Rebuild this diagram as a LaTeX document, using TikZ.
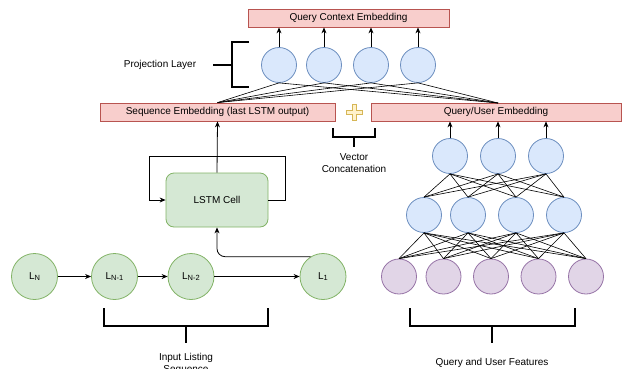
\documentclass[tikz,border=0pt]{standalone}
\usepackage{fontspec}
\setmainfont{Liberation Sans}
\usetikzlibrary{arrows.meta}

\definecolor{redfill}{HTML}{F8CECC}
\definecolor{redline}{HTML}{B85450}
\definecolor{greenfill}{HTML}{D5E8D4}
\definecolor{greenline}{HTML}{82B366}
\definecolor{bluefill}{HTML}{DAE8FC}
\definecolor{blueline}{HTML}{6C8EBF}
\definecolor{purplefill}{HTML}{E1D5E7}
\definecolor{purpleline}{HTML}{9673A6}
\definecolor{yellowfill}{HTML}{FFF2CC}
\definecolor{yellowline}{HTML}{D6B656}

\tikzset{
  embbox/.style={draw=redline, fill=redfill, line width=0.8pt, minimum height=18pt, inner sep=0pt},
  unitblue/.style={circle, draw=blueline, fill=bluefill, line width=0.8pt, minimum size=35pt, inner sep=0pt},
  unitpurple/.style={circle, draw=purpleline, fill=purplefill, line width=0.8pt, minimum size=35pt, inner sep=0pt},
  listing/.style={circle, draw=greenline, fill=greenfill, line width=0.8pt, minimum size=46pt, inner sep=0pt},
  arrow/.style={-{Stealth[length=6pt,width=5pt]}, line width=0.8pt},
  wire/.style={line width=0.6pt},
  bracket/.style={line width=1.2pt}
}

\newcommand{\sub}[1]{\raisebox{-1pt}{\fontsize{7.5}{8}\selectfont #1}}

\begin{document}
\begin{tikzpicture}[x=1pt, y=-1pt, every node/.style={font=\fontsize{10}{12}\selectfont}]
    \useasboundingbox (0,0) rectangle (622,368);

    % Embedding boxes
    \node[embbox, minimum width=201pt] (ctx) at (348.5,18) {Query Context Embedding};
    \node[embbox, minimum width=235pt] (seq) at (217.5,112) {Sequence Embedding (last LSTM output)};
    \node[embbox, minimum width=250pt] (qu) at (496,112) {Query/User Embedding};
    \coordinate (quTop) at (498,103);

    % Projection layer
    \node[unitblue] (p1) at (279,65) {};
    \node[unitblue] (p2) at (324,65) {};
    \node[unitblue] (p3) at (371,65) {};
    \node[unitblue] (p4) at (418,65) {};

    % Query/User tower
    \node[unitblue] (u1) at (450,156) {};
    \node[unitblue] (u2) at (498,156) {};
    \node[unitblue] (u3) at (546,156) {};

    \node[unitblue] (h1) at (424,215) {};
    \node[unitblue] (h2) at (468,215) {};
    \node[unitblue] (h3) at (516,215) {};
    \node[unitblue] (h4) at (564,215) {};

    \node[unitpurple] (f1) at (399,276.5) {};
    \node[unitpurple] (f2) at (443.5,276.5) {};
    \node[unitpurple] (f3) at (491,276.5) {};
    \node[unitpurple] (f4) at (538.5,276.5) {};
    \node[unitpurple] (f5) at (586,276.5) {};

    % Fully connected wires
    \foreach \i in {1,...,5} {
        \foreach \j in {1,...,4} {
            \draw[wire] (f\i.north) -- (h\j.south);
        }
    }
    \foreach \i in {1,...,4} {
        \foreach \j in {1,...,3} {
            \draw[wire] (h\i.north) -- (u\j.south);
        }
    }
    \foreach \j in {1,...,4} {
        \draw[wire] (seq.north) -- (p\j.south);
        \draw[wire] (quTop) -- (p\j.south);
        \draw[arrow] (p\j.north) -- (p\j.north |- ctx.south);
    }
    \foreach \j in {1,...,3} {
        \draw[arrow] (u\j.north) -- (u\j.north |- qu.south);
    }

    % Listing sequence
    \node[listing] (ln) at (34.5,276.5) {L\sub{N}};
    \node[listing] (ln1) at (114.5,276.5) {L\sub{N-1}};
    \node[listing] (ln2) at (191,276.5) {L\sub{N-2}};
    \node[listing] (l1) at (323,276.5) {L\sub{1}};
    \draw[arrow] (ln) -- (ln1);
    \draw[arrow] (ln1) -- (ln2);
    \draw[arrow] (ln2) -- (l1);

    % LSTM cell with its loop
    \node[draw=greenline, fill=greenfill, line width=0.8pt, rounded corners=8pt,
          minimum width=102pt, minimum height=54pt] (lstm) at (217,200) {LSTM Cell};
    \coordinate (loopR) at (285,156);
    \coordinate (loopL) at (149,200);
    \draw[arrow] (lstm.east) -| (loopR) -| (loopL) -- (lstm.west);
    \draw[arrow] (lstm.north) -- (seq.south);
    \draw[arrow, rounded corners=8pt] (l1.122) -| (lstm.south);

    % Vector concatenation sign
    \draw[draw=yellowline, fill=yellowfill, line width=0.8pt]
        (352,104) -- (356,104) -- (356,110) -- (362,110) -- (362,114) -- (356,114)
        -- (356,120) -- (352,120) -- (352,114) -- (346,114) -- (346,110) -- (352,110) -- cycle;

    % Brackets
    \draw[bracket] (249,42) -- (232,42) -- (232,87) -- (249,87);
    \draw[bracket] (232,65) -- (213,65);
    \node (projlabel) at (160,65) {Projection Layer};

    \draw[bracket] (333,128) -- (333,137) -- (375,137) -- (375,128);
    \draw[bracket] (354,137) -- (354,147);
    \node[align=center] (concatlabel) at (354,163.5) {Vector\\Concatenation};

    \draw[bracket] (104,308) -- (104,326) -- (268,326) -- (268,308);
    \draw[bracket] (186,326) -- (186,343);
    \node[align=center] (seqlabel) at (186,363.5) {Input Listing\\Sequence};

    \draw[bracket] (410,308) -- (410,326) -- (575,326) -- (575,308);
    \draw[bracket] (492,326) -- (492,343);
    \node (featlabel) at (492,363) {Query and User Features};
\end{tikzpicture}
\end{document}
